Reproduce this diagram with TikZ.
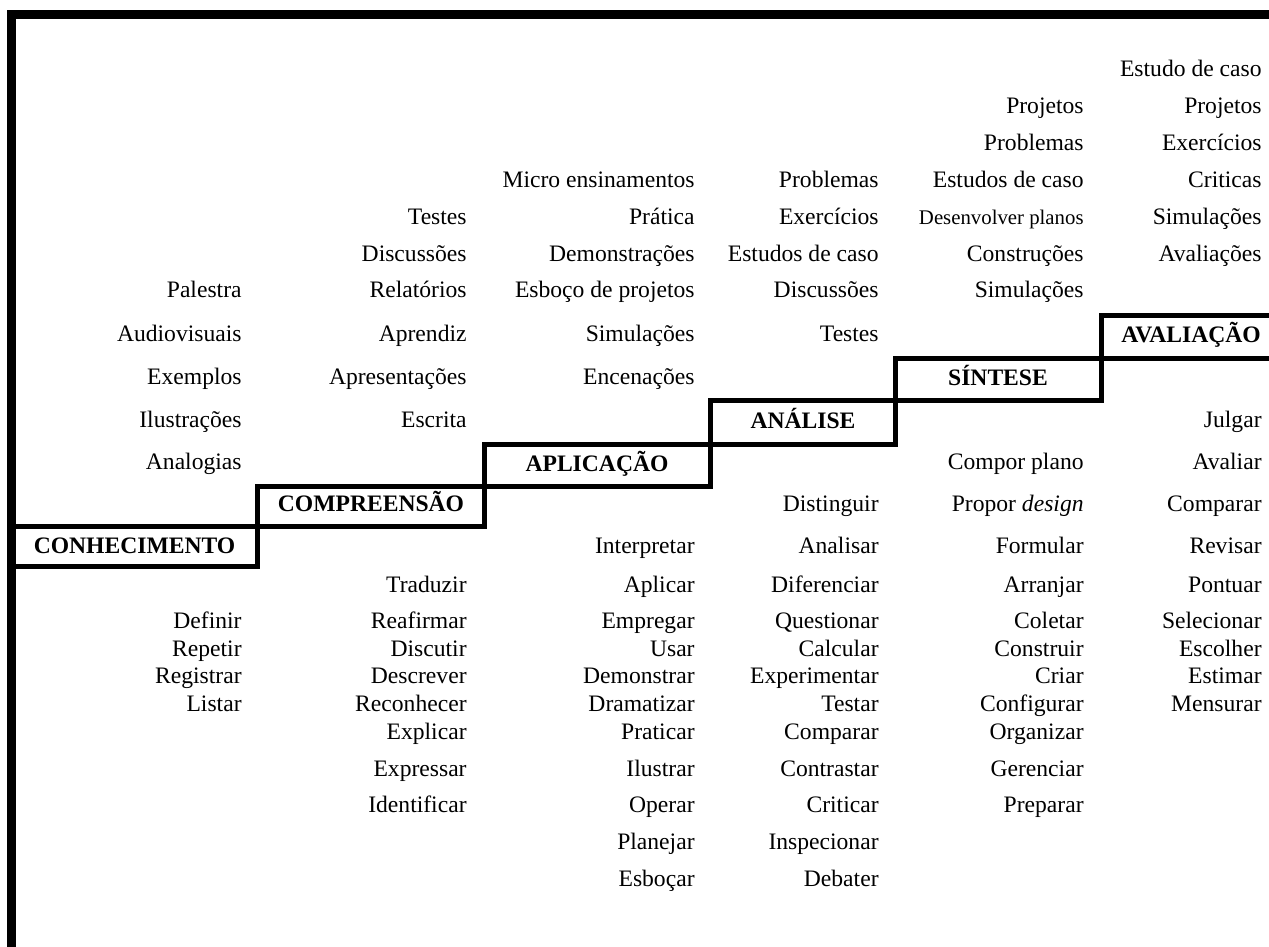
\documentclass[tikz,border=0pt]{standalone}
\usepackage{fontspec}
\setmainfont{Liberation Serif}
\usepackage{xcolor}
\usepackage{tikz}
\tikzset{
  framing/.style={draw=black, line width=4.5pt, line join=miter},
  stair/.style={draw=black, line width=2.5pt, line join=miter},
  act/.style={anchor=base east, inner sep=0pt, font=\fontsize{11.8}{14}\selectfont},
  stage/.style={anchor=base, inner sep=0pt, font=\fontsize{11.8}{14}\selectfont\bfseries},
}

\begin{document}
\begin{tikzpicture}[x=0.5pt,y=-0.5pt]
  \useasboundingbox (0,0) rectangle (1269,947);
  \draw[framing] (11.5,947) -- (11.5,14.5) -- (1269,14.5);
  % steps
  \draw[stair] (11.5,566.5) rectangle (257.5,526.5);
  \draw[stair] (257.5,526.5) rectangle (484.5,486);
  \draw[stair] (484.5,486) rectangle (710.5,444.5);
  \draw[stair] (710.5,444.5) rectangle (895.5,400);
  \draw[stair] (895.5,400) rectangle (1101,358);
  \draw[stair] (1269,358) -- (1101,358) -- (1101,315.5) -- (1269,315.5);
  \node[stage] (con) at (134.5,553) {CONHECIMENTO};
  \node[stage] (com) at (371,511) {COMPREENSÃO};
  \node[stage] (apl) at (597,471) {APLICAÇÃO};
  \node[stage] (ana) at (803,428) {ANÁLISE};
  \node[stage] (sin) at (998,385) {SÍNTESE};
  \node[stage] (ava) at (1191,342) {AVALIAÇÃO};
  % columns
  \foreach \y/\t in {297/Palestra, 341/Audiovisuais, 384/Exemplos, 427/Ilustrações,
      469/Analogias, 628/Definir, 656/Repetir, 683/Registrar, 711/Listar}
    \node[act] (A\y) at (242,\y) {\t};
  \foreach \y/\t in {224/Testes, 261/Discussões, 297/Relatórios, 341/Aprendiz,
      384/Apresentações, 427/Escrita, 592/Traduzir, 628/Reafirmar, 656/Discutir,
      683/Descrever, 711/Reconhecer, 739/Explicar, 776/Expressar, 812/Identificar}
    \node[act] (B\y) at (467,\y) {\t};
  \foreach \y/\t in {187/Micro ensinamentos, 224/Prática, 261/Demonstrações,
      297/Esboço de projetos, 341/Simulações, 384/Encenações, 553/Interpretar,
      592/Aplicar, 628/Empregar, 656/Usar, 683/Demonstrar, 711/Dramatizar,
      739/Praticar, 776/Ilustrar, 812/Operar, 849/Planejar, 886/Esboçar}
    \node[act] (C\y) at (695,\y) {\t};
  \foreach \y/\t in {187/Problemas, 224/Exercícios, 261/Estudos de caso,
      297/Discussões, 341/Testes, 511/Distinguir, 553/Analisar, 592/Diferenciar,
      628/Questionar, 656/Calcular, 683/Experimentar, 711/Testar, 739/Comparar,
      776/Contrastar, 812/Criticar, 849/Inspecionar, 886/Debater}
    \node[act] (D\y) at (879,\y) {\t};
  \foreach \y/\t in {113/Projetos, 150/Problemas, 187/Estudos de caso,
      224/{\fontsize{10.4}{12}\selectfont Desenvolver planos}, 261/Construções,
      297/Simulações, 469/Compor plano, 511/{Propor \textit{design}}, 553/Formular,
      592/Arranjar, 628/Coletar, 656/Construir, 683/Criar, 711/Configurar,
      739/Organizar, 776/Gerenciar, 812/Preparar}
    \node[act] (E\y) at (1084,\y) {\t};
  \foreach \y/\t in {77/Estudo de caso, 113/Projetos, 150/Exercícios, 187/Criticas,
      224/Simulações, 261/Avaliações, 427/Julgar, 469/Avaliar, 511/Comparar,
      553/Revisar, 592/Pontuar, 628/Selecionar, 656/Escolher, 683/Estimar,
      711/Mensurar}
    \node[act] (F\y) at (1262,\y) {\t};
\end{tikzpicture}
\end{document}
